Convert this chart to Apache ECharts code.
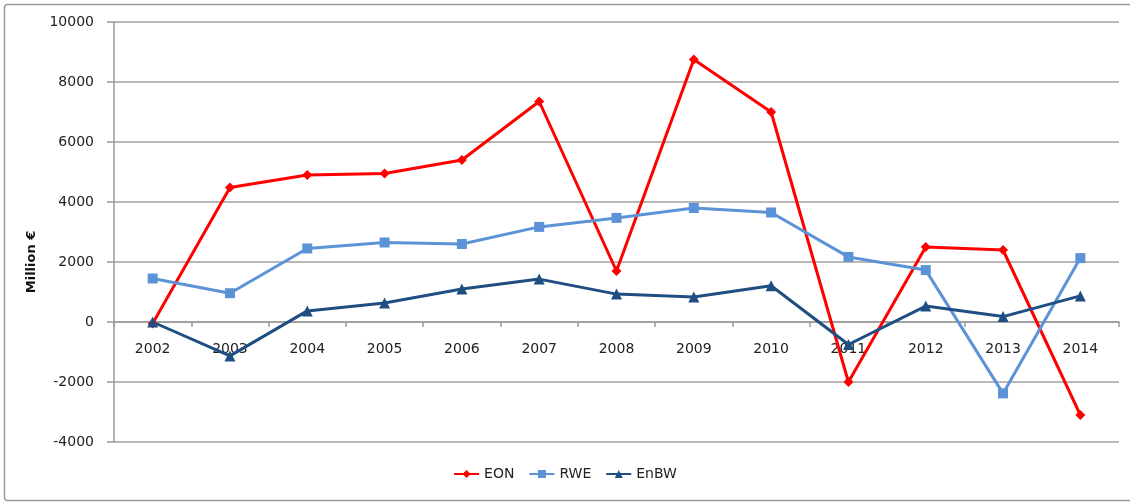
<!DOCTYPE html>
<html>
<head>
<meta charset="utf-8">
<script src="https://cdn.jsdelivr.net/npm/echarts@6/dist/echarts.min.js"></script>
<style>html,body{margin:0;padding:0;background:#fff}#c{width:1130px;height:503px}</style>
</head>
<body>
<div id="c"></div>
<script>
var years = ['2002','2003','2004','2005','2006','2007','2008','2009','2010','2011','2012','2013','2014'];
var eon  = [-50, 4480, 4900, 4950, 5400, 7350, 1700, 8750, 7000, -2000, 2500, 2400, -3100];
var rwe  = [1450, 960, 2450, 2650, 2600, 3170, 3470, 3800, 3650, 2170, 1730, -2380, 2130];
var enbw = [0, -1130, 370, 630, 1100, 1430, 930, 830, 1210, -750, 530, 180, 870];
var yTicks = {min: -4000, max: 10000, interval: 2000};

var font = 'DejaVu Sans';
var gridTop = 22, gridBottom = 61, H = 503;
var plotH = H - gridTop - gridBottom;
// move the category axis up to the zero value line
var zeroOffset = -(0 - yTicks.min) / (yTicks.max - yTicks.min) * plotH;

var chart = echarts.init(document.getElementById('c'), null, {renderer: 'canvas'});
function mk(name, data, color, symbol, size) {
  return {
    name: name, type: 'line', data: data, symbol: symbol, symbolSize: size,
    showAllSymbol: true,
    lineStyle: {color: color, width: 3}, itemStyle: {color: color},
    emphasis: {disabled: true}
  };
}
chart.setOption({
  animation: false,
  graphic: [{
    type: 'rect', shape: {x: 4.5, y: 4.5, width: 1135, height: 496, r: 3},
    style: {fill: 'none', stroke: '#9a9a9a', lineWidth: 1.5}, z: -1
  }],
  grid: {left: 114, right: 11, top: gridTop, bottom: gridBottom, containLabel: false},
  legend: {
    bottom: 17, left: 'center', itemGap: 14, itemWidth: 25, itemHeight: 10,
    textStyle: {fontFamily: font, fontSize: 14, color: '#222'},
    data: ['EON', 'RWE', 'EnBW']
  },
  xAxis: {
    type: 'category', data: years, boundaryGap: true, position: 'bottom', offset: zeroOffset,
    axisLine: {onZero: false, lineStyle: {color: '#9a9a9a', width: 1.5}},
    axisTick: {show: true, length: 5, lineStyle: {color: '#9a9a9a', width: 1.5}},
    axisLabel: {margin: 20, fontFamily: font, fontSize: 14, color: '#222'},
    splitLine: {show: false}
  },
  yAxis: {
    type: 'value', min: yTicks.min, max: yTicks.max, interval: yTicks.interval,
    name: 'Million €', nameLocation: 'middle', nameGap: 66, nameRotate: 90,
    nameTextStyle: {fontFamily: font, fontSize: 13, fontWeight: 'bold', color: '#111', padding: [0, 0, 0, -60]},
    axisLine: {show: true, onZero: false, lineStyle: {color: '#9a9a9a', width: 1.5}},
    axisTick: {show: true, length: 7, lineStyle: {color: '#9a9a9a', width: 1.5}},
    axisLabel: {margin: 20, fontFamily: font, fontSize: 14, color: '#222', formatter: function (v) { return String(v); }},
    splitLine: {show: true, lineStyle: {color: '#a0a0a0', width: 1.5}}
  },
  series: [
    mk('EON', eon, '#ff0000', 'diamond', 10),
    mk('RWE', rwe, '#5b93d6', 'rect', 10),
    mk('EnBW', enbw, '#1f4e82', 'triangle', 11)
  ]
});
</script>
</body>
</html>
